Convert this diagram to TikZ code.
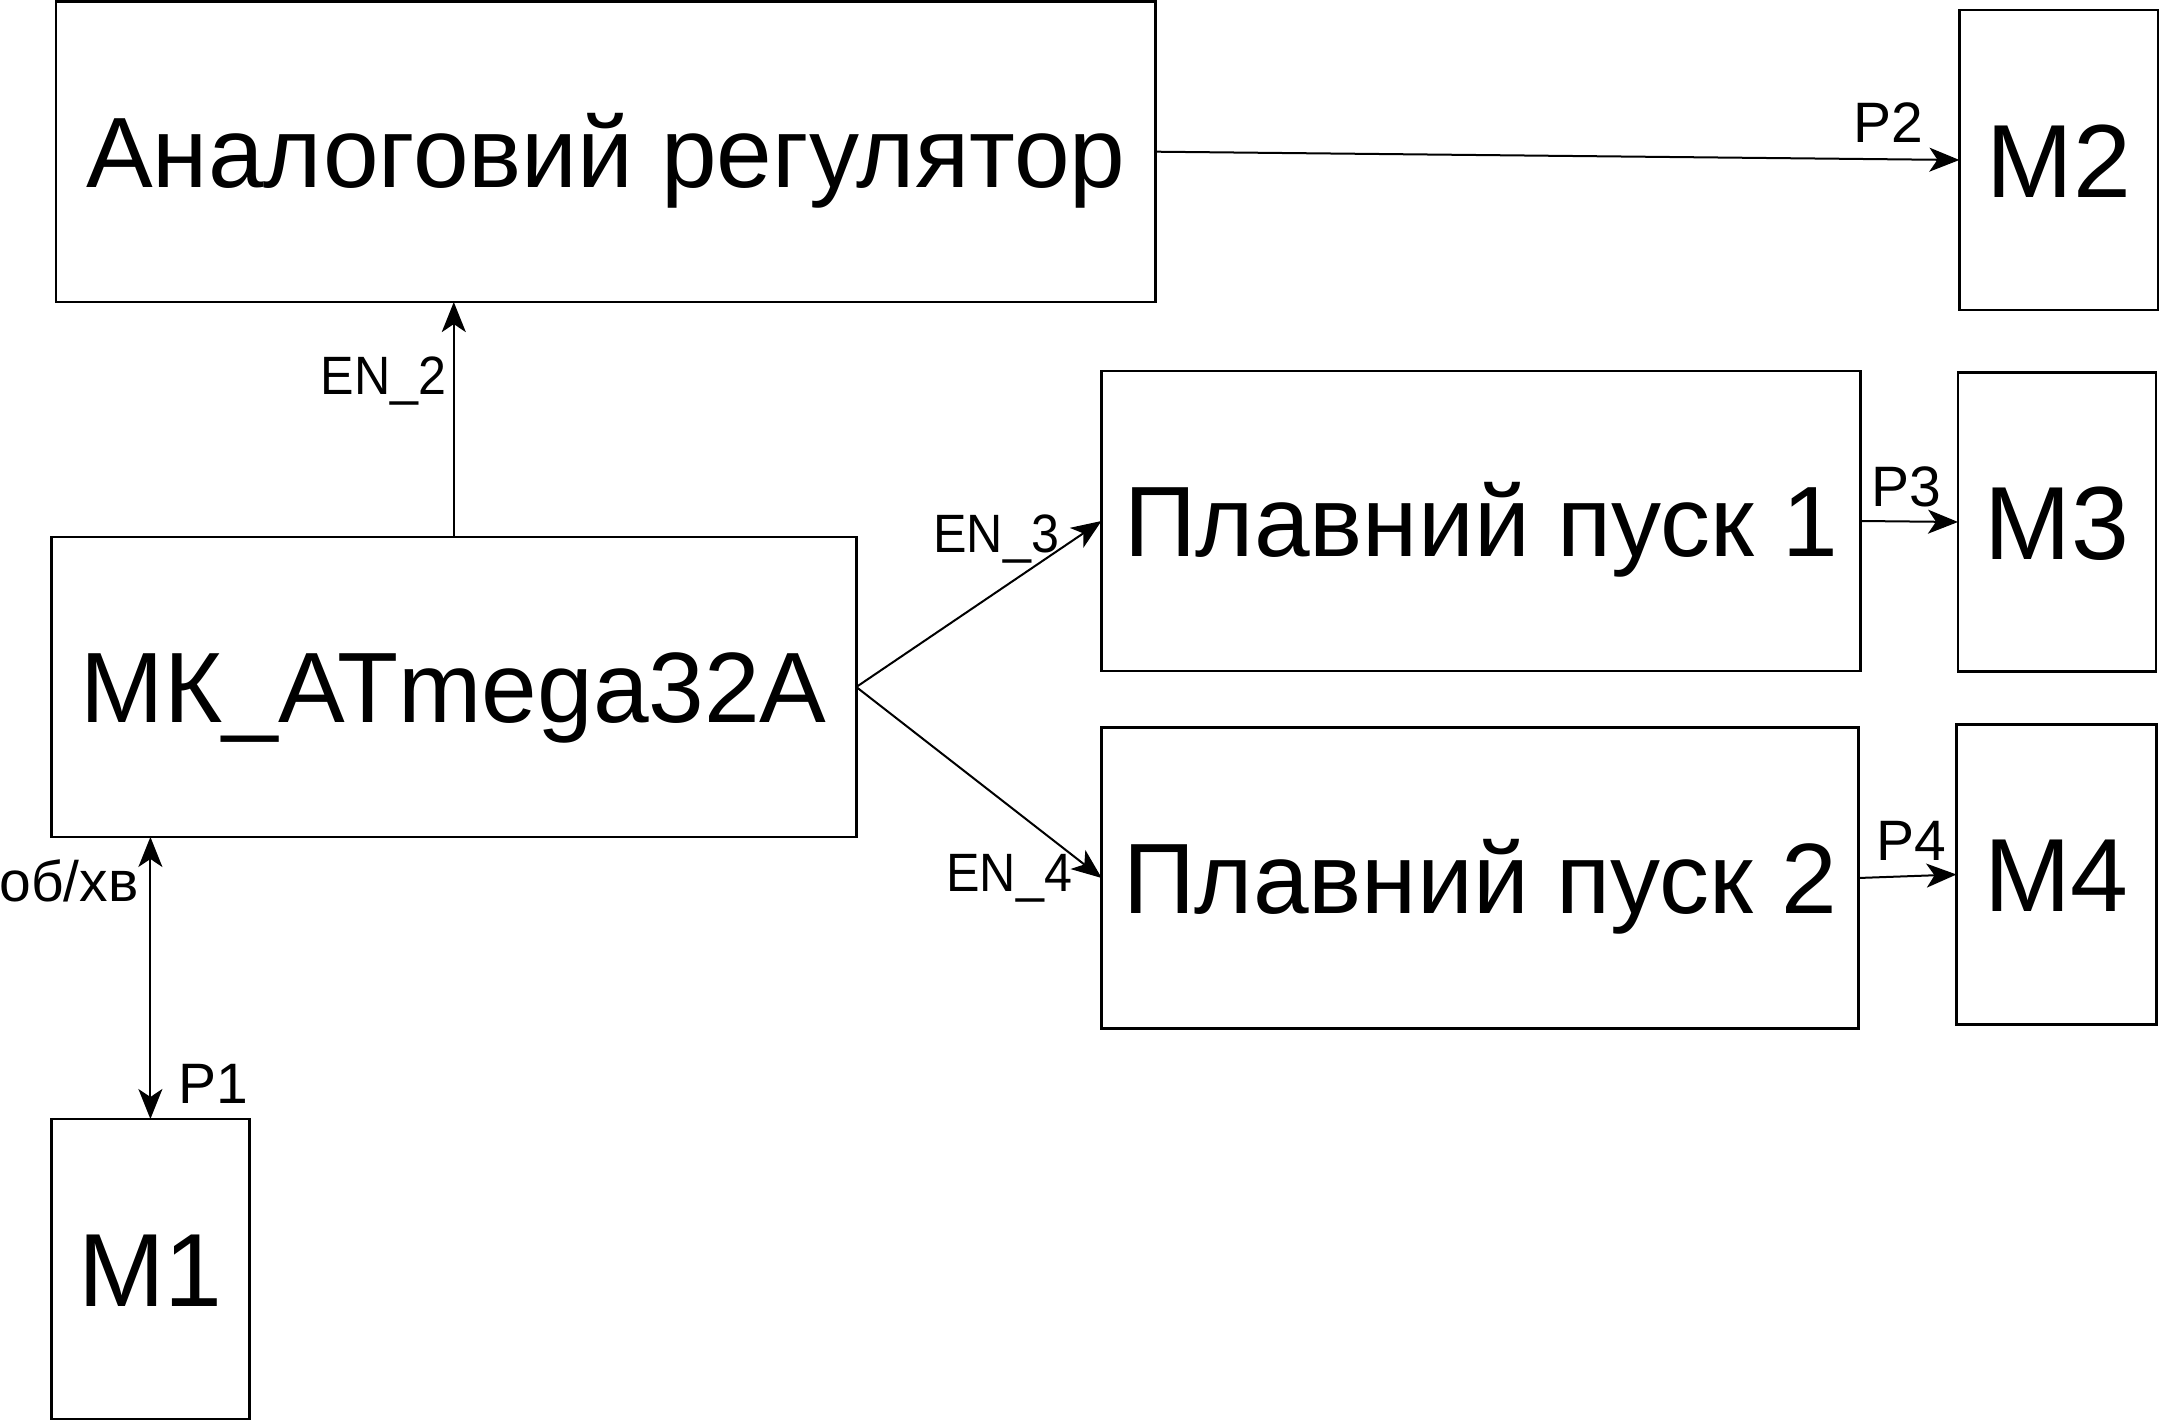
\documentclass[tikz,border=0pt]{standalone}
\usepackage{fontspec}
\setmainfont{Liberation Sans}
\usetikzlibrary{arrows.meta}
\begin{document}
\begin{tikzpicture}[x=0.5pt,y=-0.5pt,
  box/.style={draw, line width=1.3pt, inner sep=0pt, outer sep=0pt,
    font=\fontsize{50}{60}\selectfont, text height=35.8pt, text depth=0pt},
  mbox/.style={box, minimum width=99pt, minimum height=150pt,
    font=\fontsize{52}{62}\selectfont, text height=37.2pt},
  lbl/.style={inner sep=0pt, font=\fontsize{27}{32}\selectfont\addfontfeature{FakeStretch=0.93}},
  plbl/.style={inner sep=0pt, font=\fontsize{28.5}{34}\selectfont},
  tip/.tip={Stealth[length=15pt,width=12pt,inset=4pt]},
  conn/.style={line width=1pt, -tip}]
\useasboundingbox (0,0) rectangle (2160,1422);

\node[box, minimum width=549.8pt, minimum height=150.4pt] (an) at (605.8,151.7) {Аналоговий регулятор};
\node[mbox, minimum width=99.2pt] (m2) at (2058.6,160) {M2};
\node[box, minimum width=402.5pt, minimum height=150pt] (mk) at (453.8,687) {МК\_ATmega32A};
\node[box, minimum width=379.5pt, minimum height=150pt] (s1) at (1481,521) {Плавний пуск 1};
\node[mbox, minimum height=149.5pt] (m3) at (2057,522) {M3};
\node[box, minimum width=378.3pt, minimum height=150.2pt] (s2) at (1480,878) {Плавний пуск 2};
\node[mbox, minimum width=100pt] (m4) at (2056.5,874.5) {M4};
\node[mbox] (m1) at (150.4,1269) {M1};

\draw[conn] (an.east) -- (m2.west);
\draw[conn] (mk.north) -- (mk.north |- an.south);
\draw[conn] (mk.east) -- (s1.west);
\draw[conn] (mk.east) -- (s2.west);
\draw[conn] (s1.east) -- (m3.west);
\draw[conn] (s2.east) -- (m4.west);
\draw[line width=1pt, tip-tip] (m1.north |- mk.south) -- (m1.north);

\node[lbl, anchor=base east] (l2) at (447,395) {EN\_2};
\node[lbl, anchor=base west] (l3) at (933,553) {EN\_3};
\node[lbl, anchor=base west] (l4) at (946,892) {EN\_4};
\node[plbl, anchor=base west] (p2) at (1853,143) {P2};
\node[plbl, anchor=base west] (p3) at (1871,507) {P3};
\node[plbl, anchor=base west] (p4) at (1876,861) {P4};
\node[plbl, anchor=base west] (p1) at (178,1103) {P1};
\node[plbl, anchor=base west] (ob) at (-1,902) {об/хв};
\end{tikzpicture}
\end{document}
